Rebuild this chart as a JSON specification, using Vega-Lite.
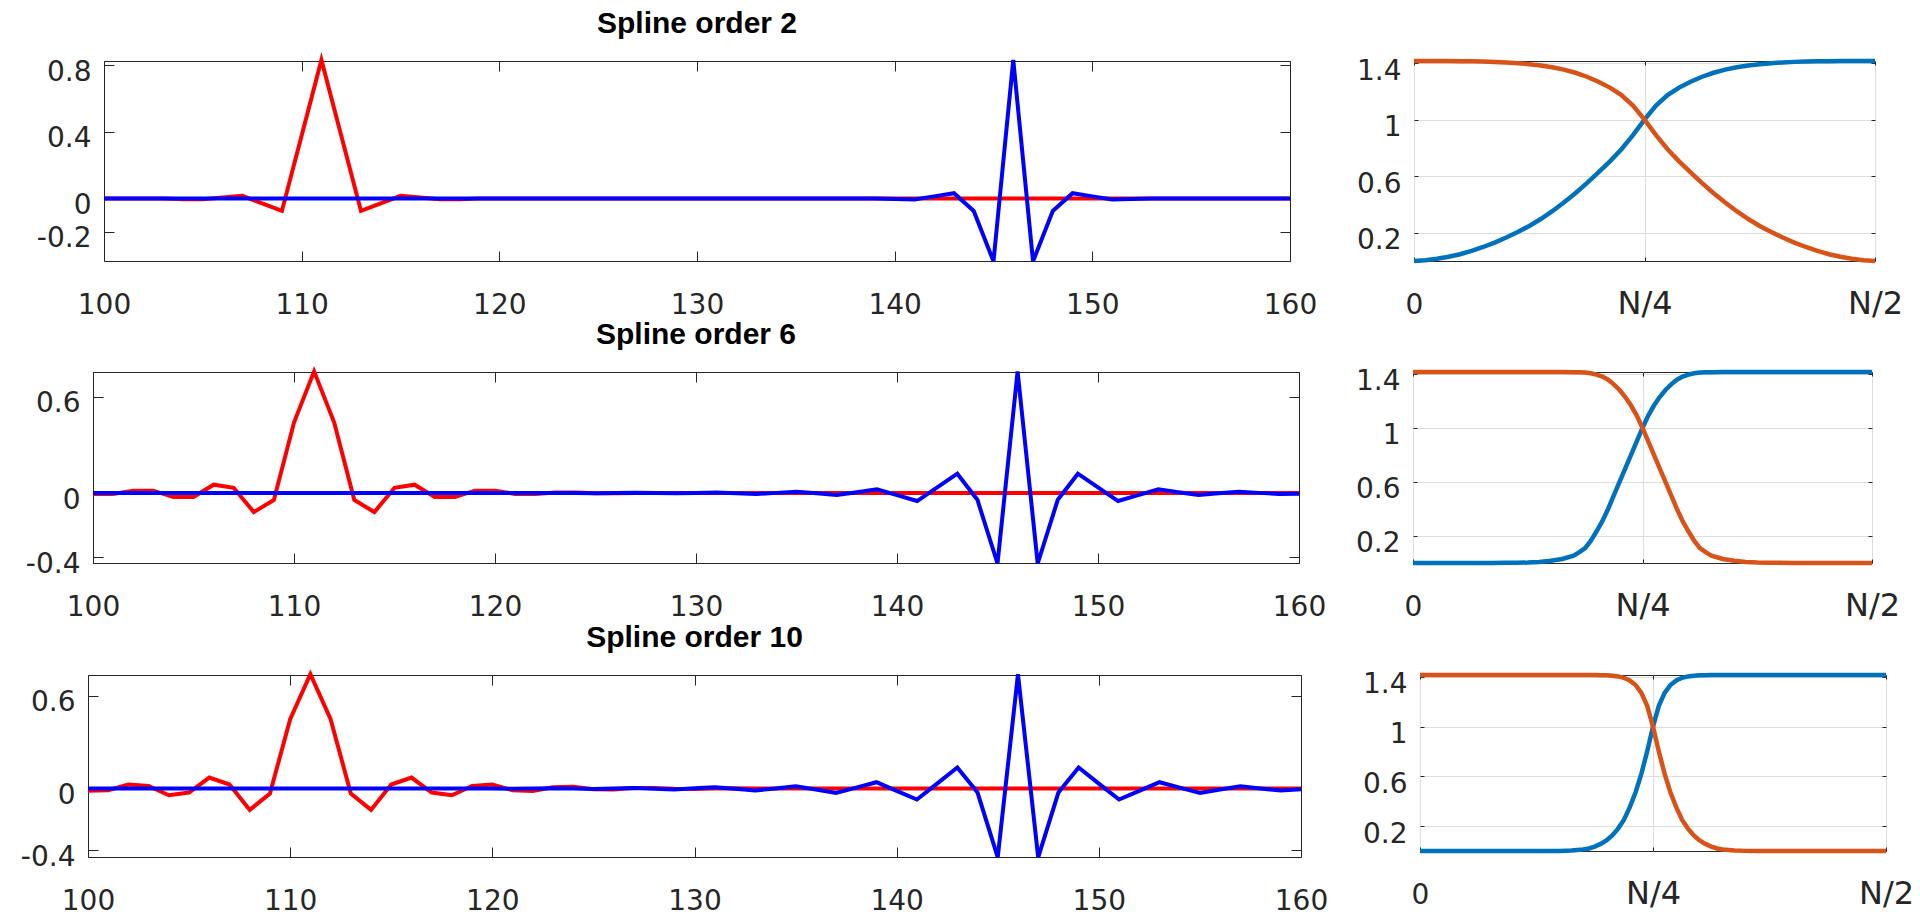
{
  "$schema": "https://vega.github.io/schema/vega-lite/v6.json",
  "background": "white",
  "padding": {"left": 6, "top": 8, "right": 0, "bottom": 0},
  "spacing": -1,
  "vconcat": [
    {
      "spacing": 0,
      "hconcat": [
        {"width": 22, "height": 1, "view": {"stroke": null, "fill": "white"}, "data": {"values": [{"k": 0}]}, "mark": {"type": "point", "opacity": 0}, "encoding": {}},
        {
          "spacing": 37,
          "hconcat": [
            {
              "width": 1186, "height": 200,
              "title": {"text": "Spline order 2"},
              "data": {"name": "L1"},
              "layer": [
                {"mark": {"type": "line", "color": "#ff0000", "strokeWidth": 4},
                 "encoding": {
                   "x": {"field": "x", "type": "quantitative", "title": null, "scale": {"domain": [100, 160], "nice": false, "zero": false}, "axis": {"orient": "bottom", "values": [100, 110, 120, 130, 140, 150, 160], "tickSize": -10, "labelPadding": 62, "labelBaseline": "alphabetic"}},
                   "y": {"field": "r", "type": "quantitative", "title": null, "scale": {"domain": [-0.374, 0.824], "nice": false, "zero": false}, "axis": {"orient": "left", "values": [-0.2, 0, 0.4, 0.8], "minExtent": 75, "tickSize": -10, "labelPadding": 23, "labelBaseline": "alphabetic", "labelOffset": 15, "labelExpr": "datum.value == 0 ? '0' : replace(format(datum.value, '.1f'), '\u2212', '-')"}}}},
                {"mark": {"type": "line", "color": "#0000ff", "strokeWidth": 4},
                 "encoding": {
                   "x": {"field": "x", "type": "quantitative", "title": null, "scale": {"domain": [100, 160], "nice": false, "zero": false}, "axis": {"orient": "top", "values": [100, 110, 120, 130, 140, 150, 160], "tickSize": -10, "labels": false}},
                   "y": {"field": "b", "type": "quantitative", "title": null, "scale": {"domain": [-0.374, 0.824], "nice": false, "zero": false}, "axis": {"orient": "right", "values": [-0.2, 0, 0.4, 0.8], "tickSize": -10, "labels": false}}}}
              ],
              "resolve": {"axis": {"x": "independent", "y": "independent"}}
            },
            {
              "width": 461, "height": 200,
              "data": {"name": "R1"},
              "layer": [
                {"mark": {"type": "line", "color": "#0072BD", "strokeWidth": 4.5},
                 "encoding": {
                   "x": {"field": "t", "type": "quantitative", "title": null, "scale": {"domain": [0, 1], "nice": false, "zero": false}, "axis": {"orient": "bottom", "values": [0, 0.5, 1], "grid": true, "tickSize": -4, "labelPadding": 56, "labelBaseline": "alphabetic", "labelExpr": "datum.value == 0 ? '0' : (datum.value == 0.5 ? 'N/4' : 'N/2')", "labelFontSize": {"condition": {"test": "datum.value == 0", "value": 28}, "value": 32}}},
                   "y": {"field": "b", "type": "quantitative", "title": null, "scale": {"domain": [0, 1.4142], "nice": false, "zero": false}, "axis": {"orient": "left", "values": [0.2, 0.6, 1, 1.4], "grid": true, "tickSize": -4, "labelPadding": 17, "labelBaseline": "alphabetic", "labelOffset": 16, "labelExpr": "datum.value == 1 ? '1' : format(datum.value, '.1f')"}}}},
                {"mark": {"type": "line", "color": "#D95319", "strokeWidth": 4.5},
                 "encoding": {
                   "x": {"field": "t", "type": "quantitative", "title": null, "scale": {"domain": [0, 1], "nice": false, "zero": false}, "axis": {"orient": "top", "values": [0, 0.5, 1], "tickSize": -4, "labels": false}},
                   "y": {"field": "o", "type": "quantitative", "title": null, "scale": {"domain": [0, 1.4142], "nice": false, "zero": false}, "axis": {"orient": "right", "values": [0.2, 0.6, 1, 1.4], "tickSize": -4, "labels": false}}}}
              ],
              "resolve": {"axis": {"x": "independent", "y": "independent"}}
            }
          ]
        }
      ]
    },
    {
      "spacing": 0,
      "vconcat": [
        {
          "spacing": 0,
          "hconcat": [
            {"width": 11, "height": 1, "view": {"stroke": null, "fill": "white"}, "data": {"values": [{"k": 0}]}, "mark": {"type": "point", "opacity": 0}, "encoding": {}},
            {
              "spacing": 27,
              "hconcat": [
                {
                  "width": 1206, "height": 191,
                  "title": {"text": "Spline order 6"},
                  "data": {"name": "L2"},
                  "layer": [
                    {"mark": {"type": "line", "color": "#ff0000", "strokeWidth": 4},
                     "encoding": {
                       "x": {"field": "x", "type": "quantitative", "title": null, "scale": {"domain": [100, 160], "nice": false, "zero": false}, "axis": {"orient": "bottom", "values": [100, 110, 120, 130, 140, 150, 160], "tickSize": -10, "labelPadding": 62, "labelBaseline": "alphabetic"}},
                       "y": {"field": "r", "type": "quantitative", "title": null, "scale": {"domain": [-0.437, 0.756], "nice": false, "zero": false}, "axis": {"orient": "left", "values": [-0.4, 0, 0.6], "minExtent": 75, "tickSize": -10, "labelPadding": 23, "labelBaseline": "alphabetic", "labelOffset": 15, "labelExpr": "datum.value == 0 ? '0' : replace(format(datum.value, '.1f'), '\u2212', '-')"}}}},
                    {"mark": {"type": "line", "color": "#0000ff", "strokeWidth": 4},
                     "encoding": {
                       "x": {"field": "x", "type": "quantitative", "title": null, "scale": {"domain": [100, 160], "nice": false, "zero": false}, "axis": {"orient": "top", "values": [100, 110, 120, 130, 140, 150, 160], "tickSize": -10, "labels": false}},
                       "y": {"field": "b", "type": "quantitative", "title": null, "scale": {"domain": [-0.437, 0.756], "nice": false, "zero": false}, "axis": {"orient": "right", "values": [-0.4, 0, 0.6], "tickSize": -10, "labels": false}}}}
                  ],
                  "resolve": {"axis": {"x": "independent", "y": "independent"}}
                },
                {
                  "width": 459, "height": 191,
                  "data": {"name": "R2"},
                  "layer": [
                    {"mark": {"type": "line", "color": "#0072BD", "strokeWidth": 4.5},
                     "encoding": {
                       "x": {"field": "t", "type": "quantitative", "title": null, "scale": {"domain": [0, 1], "nice": false, "zero": false}, "axis": {"orient": "bottom", "values": [0, 0.5, 1], "grid": true, "tickSize": -4, "labelPadding": 56, "labelBaseline": "alphabetic", "labelExpr": "datum.value == 0 ? '0' : (datum.value == 0.5 ? 'N/4' : 'N/2')", "labelFontSize": {"condition": {"test": "datum.value == 0", "value": 28}, "value": 32}}},
                       "y": {"field": "b", "type": "quantitative", "title": null, "scale": {"domain": [0, 1.4142], "nice": false, "zero": false}, "axis": {"orient": "left", "values": [0.2, 0.6, 1, 1.4], "grid": true, "tickSize": -4, "labelPadding": 17, "labelBaseline": "alphabetic", "labelOffset": 16, "labelExpr": "datum.value == 1 ? '1' : format(datum.value, '.1f')"}}}},
                    {"mark": {"type": "line", "color": "#D95319", "strokeWidth": 4.5},
                     "encoding": {
                       "x": {"field": "t", "type": "quantitative", "title": null, "scale": {"domain": [0, 1], "nice": false, "zero": false}, "axis": {"orient": "top", "values": [0, 0.5, 1], "tickSize": -4, "labels": false}},
                       "y": {"field": "o", "type": "quantitative", "title": null, "scale": {"domain": [0, 1.4142], "nice": false, "zero": false}, "axis": {"orient": "right", "values": [0.2, 0.6, 1, 1.4], "tickSize": -4, "labels": false}}}}
                  ],
                  "resolve": {"axis": {"x": "independent", "y": "independent"}}
                }
              ]
            }
          ]
        },
        {
          "spacing": 0,
          "hconcat": [
            {"width": 6, "height": 1, "view": {"stroke": null, "fill": "white"}, "data": {"values": [{"k": 0}]}, "mark": {"type": "point", "opacity": 0}, "encoding": {}},
            {
              "spacing": 32,
              "hconcat": [
                {
                  "width": 1213, "height": 182,
                  "title": {"text": "Spline order 10"},
                  "data": {"name": "L3"},
                  "layer": [
                    {"mark": {"type": "line", "color": "#ff0000", "strokeWidth": 4},
                     "encoding": {
                       "x": {"field": "x", "type": "quantitative", "title": null, "scale": {"domain": [100, 160], "nice": false, "zero": false}, "axis": {"orient": "bottom", "values": [100, 110, 120, 130, 140, 150, 160], "tickSize": -10, "labelPadding": 62, "labelBaseline": "alphabetic"}},
                       "y": {"field": "r", "type": "quantitative", "title": null, "scale": {"domain": [-0.443, 0.735], "nice": false, "zero": false}, "axis": {"orient": "left", "values": [-0.4, 0, 0.6], "minExtent": 75, "tickSize": -10, "labelPadding": 23, "labelBaseline": "alphabetic", "labelOffset": 15, "labelExpr": "datum.value == 0 ? '0' : replace(format(datum.value, '.1f'), '\u2212', '-')"}}}},
                    {"mark": {"type": "line", "color": "#0000ff", "strokeWidth": 4},
                     "encoding": {
                       "x": {"field": "x", "type": "quantitative", "title": null, "scale": {"domain": [100, 160], "nice": false, "zero": false}, "axis": {"orient": "top", "values": [100, 110, 120, 130, 140, 150, 160], "tickSize": -10, "labels": false}},
                       "y": {"field": "b", "type": "quantitative", "title": null, "scale": {"domain": [-0.443, 0.735], "nice": false, "zero": false}, "axis": {"orient": "right", "values": [-0.4, 0, 0.6], "tickSize": -10, "labels": false}}}}
                  ],
                  "resolve": {"axis": {"x": "independent", "y": "independent"}}
                },
                {
                  "width": 466, "height": 176,
                  "data": {"name": "R3"},
                  "layer": [
                    {"mark": {"type": "line", "color": "#0072BD", "strokeWidth": 4.5},
                     "encoding": {
                       "x": {"field": "t", "type": "quantitative", "title": null, "scale": {"domain": [0, 1], "nice": false, "zero": false}, "axis": {"orient": "bottom", "values": [0, 0.5, 1], "grid": true, "tickSize": -4, "labelPadding": 56, "labelBaseline": "alphabetic", "labelExpr": "datum.value == 0 ? '0' : (datum.value == 0.5 ? 'N/4' : 'N/2')", "labelFontSize": {"condition": {"test": "datum.value == 0", "value": 28}, "value": 32}}},
                       "y": {"field": "b", "type": "quantitative", "title": null, "scale": {"domain": [0, 1.4142], "nice": false, "zero": false}, "axis": {"orient": "left", "values": [0.2, 0.6, 1, 1.4], "grid": true, "tickSize": -4, "labelPadding": 17, "labelBaseline": "alphabetic", "labelOffset": 16, "labelExpr": "datum.value == 1 ? '1' : format(datum.value, '.1f')"}}}},
                    {"mark": {"type": "line", "color": "#D95319", "strokeWidth": 4.5},
                     "encoding": {
                       "x": {"field": "t", "type": "quantitative", "title": null, "scale": {"domain": [0, 1], "nice": false, "zero": false}, "axis": {"orient": "top", "values": [0, 0.5, 1], "tickSize": -4, "labels": false}},
                       "y": {"field": "o", "type": "quantitative", "title": null, "scale": {"domain": [0, 1.4142], "nice": false, "zero": false}, "axis": {"orient": "right", "values": [0.2, 0.6, 1, 1.4], "tickSize": -4, "labels": false}}}}
                  ],
                  "resolve": {"axis": {"x": "independent", "y": "independent"}}
                }
              ]
            }
          ]
        }
      ]
    }
  ],
  "datasets": {
    "L1": [
      {"x":100,"r":0,"b":0},{"x":101,"r":0,"b":0},{"x":102,"r":0,"b":0},{"x":103,"r":0,"b":0},{"x":104,"r":-0.004,"b":0},{"x":105,"r":-0.004,"b":0},{"x":106,"r":0.006,"b":0},{"x":107,"r":0.016,"b":0},{"x":108,"r":-0.029,"b":0},{"x":109,"r":-0.074,"b":0},
      {"x":110,"r":0.378,"b":0},{"x":111,"r":0.83,"b":0},{"x":112,"r":0.378,"b":0},{"x":113,"r":-0.074,"b":0},{"x":114,"r":-0.029,"b":0},{"x":115,"r":0.016,"b":0},{"x":116,"r":0.006,"b":0},{"x":117,"r":-0.004,"b":0},{"x":118,"r":-0.004,"b":0},{"x":119,"r":0,"b":0},
      {"x":120,"r":0,"b":0},{"x":121,"r":0,"b":0},{"x":122,"r":0,"b":0},{"x":123,"r":0,"b":0},{"x":124,"r":0,"b":0},{"x":125,"r":0,"b":0},{"x":126,"r":0,"b":0},{"x":127,"r":0,"b":0},{"x":128,"r":0,"b":0},{"x":129,"r":0,"b":0},
      {"x":130,"r":0,"b":0},{"x":131,"r":0,"b":0},{"x":132,"r":0,"b":0},{"x":133,"r":0,"b":0},{"x":134,"r":0,"b":0},{"x":135,"r":0,"b":0},{"x":136,"r":0,"b":0},{"x":137,"r":0,"b":0},{"x":138,"r":0,"b":0},{"x":139,"r":0,"b":0},
      {"x":140,"r":0,"b":-0.003},{"x":141,"r":0,"b":-0.006},{"x":142,"r":0,"b":0.013},{"x":143,"r":0,"b":0.032},{"x":144,"r":0,"b":-0.074},{"x":145,"r":0,"b":-0.376},{"x":146,"r":0,"b":0.83},{"x":147,"r":0,"b":-0.376},{"x":148,"r":0,"b":-0.074},{"x":149,"r":0,"b":0.032},
      {"x":150,"r":0,"b":0.013},{"x":151,"r":0,"b":-0.006},{"x":152,"r":0,"b":-0.003},{"x":153,"r":0,"b":0},{"x":154,"r":0,"b":0},{"x":155,"r":0,"b":0},{"x":156,"r":0,"b":0},{"x":157,"r":0,"b":0},{"x":158,"r":0,"b":0},{"x":159,"r":0,"b":0},
      {"x":160,"r":0,"b":0}
    ],
    "L2": [
      {"x":100,"r":-0.006,"b":0},{"x":101,"r":-0.006,"b":0},{"x":102,"r":0.015,"b":0},{"x":103,"r":0.015,"b":0},{"x":104,"r":-0.025,"b":0},{"x":105,"r":-0.025,"b":0},{"x":106,"r":0.052,"b":0},{"x":107,"r":0.033,"b":0},{"x":108,"r":-0.119,"b":0},{"x":109,"r":-0.043,"b":0},
      {"x":110,"r":0.44,"b":0},{"x":111,"r":0.76,"b":0},{"x":112,"r":0.44,"b":0},{"x":113,"r":-0.043,"b":0},{"x":114,"r":-0.119,"b":0},{"x":115,"r":0.033,"b":0},{"x":116,"r":0.052,"b":0},{"x":117,"r":-0.025,"b":0},{"x":118,"r":-0.025,"b":0},{"x":119,"r":0.015,"b":0},
      {"x":120,"r":0.015,"b":0},{"x":121,"r":-0.006,"b":0},{"x":122,"r":-0.006,"b":0},{"x":123,"r":0.003,"b":0},{"x":124,"r":0.003,"b":0},{"x":125,"r":-0.002,"b":-0.001},{"x":126,"r":-0.002,"b":0},{"x":127,"r":0.001,"b":0.002},{"x":128,"r":0.001,"b":0},{"x":129,"r":0,"b":-0.002},
      {"x":130,"r":0,"b":0},{"x":131,"r":0,"b":0.003},{"x":132,"r":0,"b":-0.0015},{"x":133,"r":0,"b":-0.006},{"x":134,"r":0,"b":0.001},{"x":135,"r":0,"b":0.008},{"x":136,"r":0,"b":-0.002},{"x":137,"r":0,"b":-0.0125},{"x":138,"r":0,"b":0.005},{"x":139,"r":0,"b":0.023},
      {"x":140,"r":0,"b":-0.013},{"x":141,"r":0,"b":-0.05},{"x":142,"r":0,"b":0.035},{"x":143,"r":0,"b":0.121},{"x":144,"r":0,"b":-0.042},{"x":145,"r":0,"b":-0.44},{"x":146,"r":0,"b":0.76},{"x":147,"r":0,"b":-0.44},{"x":148,"r":0,"b":-0.042},{"x":149,"r":0,"b":0.121},
      {"x":150,"r":0,"b":0.035},{"x":151,"r":0,"b":-0.05},{"x":152,"r":0,"b":-0.013},{"x":153,"r":0,"b":0.023},{"x":154,"r":0,"b":0.005},{"x":155,"r":0,"b":-0.0125},{"x":156,"r":0,"b":-0.002},{"x":157,"r":0,"b":0.008},{"x":158,"r":0,"b":0.001},{"x":159,"r":0,"b":-0.006},
      {"x":160,"r":0,"b":-0.004}
    ],
    "L3": [
      {"x":100,"r":-0.015,"b":0},{"x":101,"r":-0.011,"b":0},{"x":102,"r":0.026,"b":0},{"x":103,"r":0.017,"b":0},{"x":104,"r":-0.043,"b":0},{"x":105,"r":-0.026,"b":0},{"x":106,"r":0.071,"b":0},{"x":107,"r":0.026,"b":0},{"x":108,"r":-0.138,"b":0},{"x":109,"r":-0.032,"b":0},
      {"x":110,"r":0.449,"b":0},{"x":111,"r":0.74,"b":0},{"x":112,"r":0.449,"b":0},{"x":113,"r":-0.032,"b":0},{"x":114,"r":-0.138,"b":0},{"x":115,"r":0.026,"b":0},{"x":116,"r":0.071,"b":0},{"x":117,"r":-0.026,"b":0},{"x":118,"r":-0.043,"b":0},{"x":119,"r":0.017,"b":0.001},
      {"x":120,"r":0.026,"b":0},{"x":121,"r":-0.011,"b":-0.001},{"x":122,"r":-0.015,"b":0},{"x":123,"r":0.009,"b":0.002},{"x":124,"r":0.011,"b":0},{"x":125,"r":-0.004,"b":-0.003},{"x":126,"r":-0.006,"b":0},{"x":127,"r":0.003,"b":0.004},{"x":128,"r":0.004,"b":-0.001},{"x":129,"r":-0.002,"b":-0.006},
      {"x":130,"r":-0.003,"b":0.0015},{"x":131,"r":0.001,"b":0.009},{"x":132,"r":0.002,"b":-0.002},{"x":133,"r":0,"b":-0.013},{"x":134,"r":0,"b":0.001},{"x":135,"r":0,"b":0.015},{"x":136,"r":0,"b":-0.006},{"x":137,"r":0,"b":-0.028},{"x":138,"r":0,"b":0.006},{"x":139,"r":0,"b":0.041},
      {"x":140,"r":0,"b":-0.015},{"x":141,"r":0,"b":-0.071},{"x":142,"r":0,"b":0.032},{"x":143,"r":0,"b":0.136},{"x":144,"r":0,"b":-0.026},{"x":145,"r":0,"b":-0.445},{"x":146,"r":0,"b":0.74},{"x":147,"r":0,"b":-0.445},{"x":148,"r":0,"b":-0.026},{"x":149,"r":0,"b":0.136},
      {"x":150,"r":0,"b":0.032},{"x":151,"r":0,"b":-0.071},{"x":152,"r":0,"b":-0.015},{"x":153,"r":0,"b":0.041},{"x":154,"r":0,"b":0.006},{"x":155,"r":0,"b":-0.028},{"x":156,"r":0,"b":-0.006},{"x":157,"r":0,"b":0.015},{"x":158,"r":0,"b":0.001},{"x":159,"r":0,"b":-0.013},
      {"x":160,"r":0,"b":-0.005}
    ],
    "R1": [
      {"t":0,"b":0,"o":1.414},{"t":0.025,"b":0.006,"o":1.414},{"t":0.05,"b":0.016,"o":1.414},{"t":0.075,"b":0.03,"o":1.414},{"t":0.1,"b":0.048,"o":1.413},{"t":0.125,"b":0.072,"o":1.412},{"t":0.15,"b":0.099,"o":1.411},{"t":0.175,"b":0.13,"o":1.408},{"t":0.2,"b":0.166,"o":1.404},{"t":0.225,"b":0.205,"o":1.399},
      {"t":0.25,"b":0.248,"o":1.392},{"t":0.275,"b":0.297,"o":1.383},{"t":0.3,"b":0.352,"o":1.37},{"t":0.325,"b":0.413,"o":1.353},{"t":0.35,"b":0.479,"o":1.331},{"t":0.375,"b":0.551,"o":1.303},{"t":0.4,"b":0.627,"o":1.268},{"t":0.425,"b":0.705,"o":1.226},{"t":0.45,"b":0.79,"o":1.173},{"t":0.475,"b":0.89,"o":1.099},
      {"t":0.5,"b":1.0,"o":1.0},
      {"t":0.525,"b":1.099,"o":0.89},{"t":0.55,"b":1.173,"o":0.79},{"t":0.575,"b":1.226,"o":0.705},{"t":0.6,"b":1.268,"o":0.627},{"t":0.625,"b":1.303,"o":0.551},{"t":0.65,"b":1.331,"o":0.479},{"t":0.675,"b":1.353,"o":0.413},{"t":0.7,"b":1.37,"o":0.352},{"t":0.725,"b":1.383,"o":0.297},{"t":0.75,"b":1.392,"o":0.248},
      {"t":0.775,"b":1.399,"o":0.205},{"t":0.8,"b":1.404,"o":0.166},{"t":0.825,"b":1.408,"o":0.13},{"t":0.85,"b":1.411,"o":0.099},{"t":0.875,"b":1.412,"o":0.072},{"t":0.9,"b":1.413,"o":0.048},{"t":0.925,"b":1.414,"o":0.03},{"t":0.95,"b":1.414,"o":0.016},{"t":0.975,"b":1.414,"o":0.006},{"t":1,"b":1.414,"o":0}
    ],
    "R2": [
      {"t":0,"b":0,"o":1.414},{"t":0.025,"b":0,"o":1.414},{"t":0.05,"b":0,"o":1.414},{"t":0.075,"b":0,"o":1.414},{"t":0.1,"b":0,"o":1.414},{"t":0.125,"b":0,"o":1.414},{"t":0.15,"b":0,"o":1.414},{"t":0.175,"b":0,"o":1.414},{"t":0.2,"b":0.001,"o":1.414},{"t":0.225,"b":0.002,"o":1.414},
      {"t":0.25,"b":0.003,"o":1.414},{"t":0.275,"b":0.008,"o":1.414},{"t":0.3,"b":0.016,"o":1.414},{"t":0.325,"b":0.03,"o":1.414},{"t":0.35,"b":0.055,"o":1.413},{"t":0.3625,"b":0.08,"o":1.412},{"t":0.375,"b":0.11,"o":1.41},{"t":0.3875,"b":0.165,"o":1.405},{"t":0.4,"b":0.235,"o":1.395},{"t":0.4125,"b":0.31,"o":1.38},
      {"t":0.425,"b":0.4,"o":1.357},{"t":0.4375,"b":0.5,"o":1.323},{"t":0.45,"b":0.6,"o":1.281},{"t":0.4625,"b":0.7,"o":1.229},{"t":0.475,"b":0.8,"o":1.166},{"t":0.4875,"b":0.9,"o":1.091},{"t":0.5,"b":1.0,"o":1.0},
      {"t":0.5125,"b":1.091,"o":0.9},{"t":0.525,"b":1.166,"o":0.8},{"t":0.5375,"b":1.229,"o":0.7},{"t":0.55,"b":1.281,"o":0.6},{"t":0.5625,"b":1.323,"o":0.5},{"t":0.575,"b":1.357,"o":0.4},{"t":0.5875,"b":1.38,"o":0.31},{"t":0.6,"b":1.395,"o":0.235},{"t":0.6125,"b":1.405,"o":0.165},{"t":0.625,"b":1.41,"o":0.11},
      {"t":0.6375,"b":1.412,"o":0.08},{"t":0.65,"b":1.413,"o":0.055},{"t":0.675,"b":1.414,"o":0.03},{"t":0.7,"b":1.414,"o":0.016},{"t":0.725,"b":1.414,"o":0.008},{"t":0.75,"b":1.414,"o":0.003},{"t":0.775,"b":1.414,"o":0.002},{"t":0.8,"b":1.414,"o":0.001},{"t":0.825,"b":1.414,"o":0},{"t":0.85,"b":1.414,"o":0},
      {"t":0.875,"b":1.414,"o":0},{"t":0.9,"b":1.414,"o":0},{"t":0.925,"b":1.414,"o":0},{"t":0.95,"b":1.414,"o":0},{"t":0.975,"b":1.414,"o":0},{"t":1,"b":1.414,"o":0}
    ],
    "R3": [
      {"t":0,"b":0,"o":1.414},{"t":0.025,"b":0,"o":1.414},{"t":0.05,"b":0,"o":1.414},{"t":0.075,"b":0,"o":1.414},{"t":0.1,"b":0,"o":1.414},{"t":0.125,"b":0,"o":1.414},{"t":0.15,"b":0,"o":1.414},{"t":0.175,"b":0,"o":1.414},{"t":0.2,"b":0,"o":1.414},{"t":0.225,"b":0,"o":1.414},
      {"t":0.25,"b":0,"o":1.414},{"t":0.275,"b":0,"o":1.414},{"t":0.3,"b":0.001,"o":1.414},{"t":0.325,"b":0.004,"o":1.414},{"t":0.35,"b":0.012,"o":1.414},{"t":0.3625,"b":0.02,"o":1.414},{"t":0.375,"b":0.035,"o":1.414},{"t":0.3875,"b":0.057,"o":1.413},{"t":0.4,"b":0.085,"o":1.412},{"t":0.4125,"b":0.125,"o":1.409},
      {"t":0.425,"b":0.18,"o":1.403},{"t":0.4375,"b":0.25,"o":1.392},{"t":0.45,"b":0.35,"o":1.37},{"t":0.4625,"b":0.47,"o":1.334},{"t":0.475,"b":0.62,"o":1.271},{"t":0.4875,"b":0.8,"o":1.166},{"t":0.5,"b":1.0,"o":1.0},
      {"t":0.5125,"b":1.166,"o":0.8},{"t":0.525,"b":1.271,"o":0.62},{"t":0.5375,"b":1.334,"o":0.47},{"t":0.55,"b":1.37,"o":0.35},{"t":0.5625,"b":1.392,"o":0.25},{"t":0.575,"b":1.403,"o":0.18},{"t":0.5875,"b":1.409,"o":0.125},{"t":0.6,"b":1.412,"o":0.085},{"t":0.6125,"b":1.413,"o":0.057},{"t":0.625,"b":1.414,"o":0.035},
      {"t":0.6375,"b":1.414,"o":0.02},{"t":0.65,"b":1.414,"o":0.012},{"t":0.675,"b":1.414,"o":0.004},{"t":0.7,"b":1.414,"o":0.001},{"t":0.725,"b":1.414,"o":0},{"t":0.75,"b":1.414,"o":0},{"t":0.775,"b":1.414,"o":0},{"t":0.8,"b":1.414,"o":0},{"t":0.825,"b":1.414,"o":0},{"t":0.85,"b":1.414,"o":0},
      {"t":0.875,"b":1.414,"o":0},{"t":0.9,"b":1.414,"o":0},{"t":0.925,"b":1.414,"o":0},{"t":0.95,"b":1.414,"o":0},{"t":0.975,"b":1.414,"o":0},{"t":1,"b":1.414,"o":0}
    ]
  },
  "config": {
    "view": {"stroke": "#262626", "strokeWidth": 1},
    "axis": {"domain": false, "grid": false, "labelFont": "DejaVu Sans", "labelFontSize": 28, "labelColor": "#262626", "tickColor": "#262626", "tickWidth": 1, "labelFlush": false, "labelOverlap": false, "gridColor": "#dedede", "gridWidth": 1},
    "title": {"font": "Liberation Sans", "fontSize": 30, "fontWeight": "bold", "color": "#000000", "anchor": "middle", "frame": "group", "offset": 13}
  }
}
